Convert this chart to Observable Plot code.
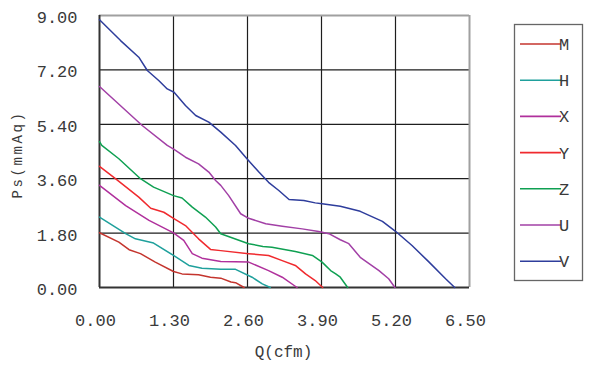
<!DOCTYPE html>
<html>
<head>
<meta charset="utf-8">
<script src="https://cdn.jsdelivr.net/npm/d3@7"></script>
<script src="https://cdn.jsdelivr.net/npm/@observablehq/plot@0.6"></script>
<style>
  body { margin: 0; background: #fff; }
  #chart { position: relative; width: 597px; height: 375px; }
</style>
</head>
<body>
<div id="chart"></div>
<script>
const xTicks = [0, 1.3, 2.6, 3.9, 5.2, 6.5];
const yTicks = [0, 1.8, 3.6, 5.4, 7.2, 9.0];
const seriesNames = ["M", "H", "X", "Y", "Z", "U", "V"];
const seriesColors = ["#c4352e", "#1fa09c", "#b0309c", "#f02a2e", "#0fa052", "#a240a6", "#2e3d9c"];
const xLabel = "Q(cfm)";
const yLabel = "Ps(mmAq)";

const qM = [0, 0.34, 0.52, 0.72, 0.98, 1.30, 1.45, 1.74, 1.95, 2.13, 2.31, 2.39, 2.54];
const pM = [1.81, 1.50, 1.25, 1.12, 0.84, 0.53, 0.45, 0.42, 0.34, 0.31, 0.18, 0.16, 0];
const qH = [0, 0.46, 0.63, 0.95, 1.30, 1.57, 1.80, 2.13, 2.39, 2.68, 2.86, 3.00];
const pH = [2.33, 1.78, 1.61, 1.47, 1.06, 0.73, 0.64, 0.60, 0.60, 0.34, 0.12, 0];
const qX = [0, 0.46, 0.87, 1.30, 1.48, 1.63, 1.80, 2.13, 2.62, 2.97, 3.21, 3.47];
const pX = [3.38, 2.71, 2.22, 1.81, 1.56, 1.12, 0.97, 0.86, 0.84, 0.56, 0.34, 0];
const qY = [0, 0.28, 0.69, 0.90, 1.13, 1.30, 1.51, 1.74, 1.95, 2.13, 2.62, 2.97, 3.21, 3.44, 3.62, 3.79, 3.92];
const pY = [4.01, 3.60, 2.99, 2.62, 2.49, 2.29, 2.05, 1.61, 1.26, 1.22, 1.12, 1.06, 0.89, 0.73, 0.45, 0.23, 0];
const qZ = [0, 0.04, 0.34, 0.72, 0.95, 1.30, 1.45, 1.63, 1.86, 2.04, 2.13, 2.62, 2.87, 3.03, 3.44, 3.74, 3.91, 4.06, 4.15, 4.23, 4.36];
const pZ = [4.83, 4.70, 4.26, 3.60, 3.32, 3.04, 2.96, 2.66, 2.33, 2.00, 1.78, 1.45, 1.36, 1.33, 1.19, 1.06, 0.84, 0.56, 0.45, 0.34, 0];
const qU = [0, 0.75, 1.19, 1.31, 1.51, 1.74, 1.92, 2.04, 2.13, 2.27, 2.48, 2.62, 2.92, 3.21, 3.56, 3.85, 4.03, 4.23, 4.38, 4.58, 4.91, 5.08, 5.19];
const pU = [6.65, 5.36, 4.70, 4.57, 4.31, 4.09, 3.82, 3.54, 3.38, 3.04, 2.44, 2.29, 2.11, 2.03, 1.94, 1.85, 1.78, 1.58, 1.45, 1.00, 0.56, 0.29, 0];
const qV = [0, 0.37, 0.69, 0.84, 1.04, 1.19, 1.31, 1.51, 1.69, 1.92, 2.13, 2.39, 2.59, 2.80, 2.97, 3.15, 3.33, 3.59, 3.79, 3.91, 4.23, 4.58, 4.97, 5.20, 5.49, 5.79, 6.08, 6.24];
const pV = [8.86, 8.17, 7.62, 7.18, 6.85, 6.57, 6.46, 6.02, 5.69, 5.47, 5.14, 4.70, 4.26, 3.82, 3.48, 3.21, 2.91, 2.88, 2.80, 2.77, 2.69, 2.52, 2.19, 1.86, 1.39, 0.84, 0.29, 0];

const qs = [qM, qH, qX, qY, qZ, qU, qV];
const ps = [pM, pH, pX, pY, pZ, pU, pV];
const rows = [];
seriesNames.forEach((name, i) => {
  qs[i].forEach((q, j) => rows.push({series: name, q, p: ps[i][j]}));
});

const font = "'Liberation Mono', 'DejaVu Sans Mono', monospace";
const ink = "#3a3a3a";

const chart = Plot.plot({
  width: 597,
  height: 375,
  marginLeft: 99,
  marginRight: 128,
  marginTop: 15,
  marginBottom: 88,
  style: {fontFamily: font, fontSize: "17px", color: ink, background: "#fff"},
  x: {domain: [0, 6.5], axis: null},
  y: {domain: [0, 9], axis: null},
  color: {domain: seriesNames, range: seriesColors},
  marks: [
    Plot.ruleX(xTicks.slice(1, -1), {stroke: "#1e1e1e", strokeWidth: 1.2}),
    Plot.ruleY(yTicks.slice(1, -1), {stroke: "#1e1e1e", strokeWidth: 1.2}),
    Plot.ruleY([9], {stroke: "#a0a0a0", strokeWidth: 2}),
    Plot.ruleX([6.5], {stroke: "#a0a0a0", strokeWidth: 2}),
    Plot.ruleX([0], {stroke: "#333", strokeWidth: 2}),
    Plot.ruleY([0], {stroke: "#333", strokeWidth: 2}),
    Plot.line(rows, {x: "q", y: "p", z: "series", stroke: "series", strokeWidth: 1.5}),
    Plot.text(xTicks, {x: d => d, y: 0, dy: 33, dx: -4, text: d => d.toFixed(2), fill: ink}),
    Plot.text(yTicks, {x: 0, y: d => d, dx: -22, dy: 2, textAnchor: "end", text: d => d.toFixed(2), fill: ink}),
    Plot.text([xLabel], {frameAnchor: "bottom", dy: 69, dx: -1, text: d => d, fill: ink, fontSize: 16}),
    Plot.text([yLabel], {frameAnchor: "left", textAnchor: "middle", dx: -82, dy: 3, rotate: -90, text: d => d, fill: ink, fontSize: 14})
  ]
});

document.getElementById("chart").appendChild(chart);

const svg = d3.select(chart);
svg.selectAll("text").filter(function () { return this.textContent === yLabel; })
  .style("letter-spacing", "2.6px");

// legend box (drawn into the same SVG)
const lg = svg.append("g").attr("font-family", font).attr("font-size", 17).attr("fill", ink);
lg.append("rect").attr("x", 514.5).attr("y", 24.5).attr("width", 68).attr("height", 256)
  .attr("fill", "none").attr("stroke", "#666").attr("stroke-width", 1.3);
seriesNames.forEach((name, i) => {
  const y = 44 + i * 36.2;
  lg.append("line").attr("x1", 520).attr("x2", 561).attr("y1", y).attr("y2", y)
    .attr("stroke", seriesColors[i]).attr("stroke-width", 1.6);
  lg.append("text").attr("x", 564).attr("y", y).attr("dy", "0.35em").text(name);
});
</script>
</body>
</html>
